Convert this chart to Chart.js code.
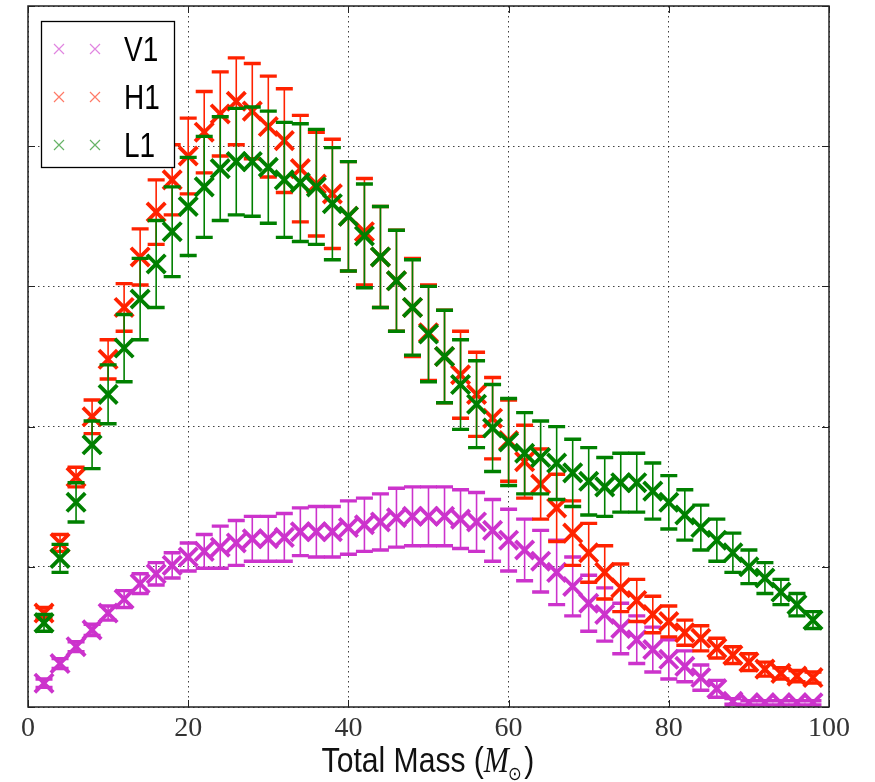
<!DOCTYPE html>
<html>
<head>
<meta charset="utf-8">
<script src="https://cdn.jsdelivr.net/npm/chart.js@4.4.1/dist/chart.umd.min.js"></script>
<style>
  html, body { margin: 0; padding: 0; background: #fff; }
  #wrap { width: 875px; height: 782px; }
</style>
</head>
<body>
<div id="wrap"><canvas id="chart" width="875" height="782"></canvas></div>
<script>
// total mass bins (M_sun)
const masses = [2, 4, 6, 8, 10, 12, 14, 16, 18, 20, 22, 24, 26, 28, 30, 32, 34, 36, 38, 40,
  42, 44, 46, 48, 50, 52, 54, 56, 58, 60, 62, 64, 66, 68, 70, 72, 74, 76, 78, 80,
  82, 84, 86, 88, 90, 92, 94, 96, 98];

const v1Values = [0.17, 0.31, 0.43, 0.55, 0.67, 0.77, 0.88, 0.95, 1.01, 1.07,
  1.11, 1.14, 1.17, 1.20, 1.20, 1.21, 1.25, 1.25, 1.25, 1.28,
  1.30, 1.32, 1.35, 1.36, 1.36, 1.36, 1.34, 1.32, 1.26, 1.19,
  1.12, 1.04, 0.96, 0.86, 0.74, 0.66, 0.56, 0.48, 0.41, 0.34,
  0.29, 0.21, 0.13, 0.04, 0.03, 0.03, 0.03, 0.03, 0.03];
const v1Errors = [0.03, 0.035, 0.035, 0.04, 0.05, 0.06, 0.07, 0.08, 0.09, 0.10,
  0.12, 0.15, 0.16, 0.16, 0.16, 0.17, 0.17, 0.18, 0.18, 0.19,
  0.19, 0.20, 0.21, 0.21, 0.21, 0.21, 0.21, 0.21, 0.22, 0.22,
  0.22, 0.22, 0.23, 0.21, 0.20, 0.19, 0.18, 0.17, 0.16, 0.14,
  0.11, 0.09, 0.06, 0.02, 0.015, 0.015, 0.015, 0.015, 0.015];

const h1Values = [0.67, 1.17, 1.64, 2.07, 2.48, 2.85, 3.21, 3.53, 3.76, 3.93,
  4.10, 4.23, 4.32, 4.25, 4.14, 4.04, 3.84, 3.73, 3.66, 3.50,
  3.39, 3.21, 3.04, 2.85, 2.67, 2.50, 2.37, 2.23, 2.06, 1.90,
  1.75, 1.59, 1.42, 1.24, 1.10, 0.96, 0.85, 0.76, 0.66, 0.61,
  0.53, 0.49, 0.42, 0.37, 0.32, 0.27, 0.24, 0.22, 0.21];
const h1Errors = [0.04, 0.06, 0.07, 0.12, 0.14, 0.17, 0.20, 0.23, 0.25, 0.27,
  0.29, 0.30, 0.31, 0.34, 0.36, 0.37, 0.38, 0.37, 0.39, 0.39,
  0.38, 0.36, 0.36, 0.35, 0.34, 0.33, 0.31, 0.30, 0.29, 0.29,
  0.26, 0.25, 0.24, 0.23, 0.21, 0.19, 0.17, 0.15, 0.13, 0.11,
  0.09, 0.09, 0.07, 0.06, 0.06, 0.05, 0.04, 0.04, 0.04];

const l1Values = [0.60, 1.06, 1.46, 1.87, 2.23, 2.56, 2.91, 3.16, 3.39, 3.57,
  3.71, 3.84, 3.89, 3.89, 3.85, 3.76, 3.74, 3.71, 3.59, 3.50,
  3.36, 3.21, 3.04, 2.85, 2.66, 2.50, 2.30, 2.16, 1.99, 1.89,
  1.81, 1.78, 1.74, 1.67, 1.61, 1.57, 1.60, 1.60, 1.54, 1.46,
  1.37, 1.28, 1.19, 1.10, 1.00, 0.92, 0.82, 0.73, 0.62];
const l1Errors = [0.06, 0.10, 0.14, 0.17, 0.21, 0.24, 0.29, 0.31, 0.32, 0.35,
  0.36, 0.37, 0.38, 0.39, 0.40, 0.41, 0.42, 0.41, 0.40, 0.39,
  0.37, 0.36, 0.36, 0.34, 0.34, 0.33, 0.32, 0.31, 0.31, 0.31,
  0.29, 0.26, 0.26, 0.24, 0.24, 0.21, 0.21, 0.21, 0.20, 0.19,
  0.18, 0.16, 0.15, 0.14, 0.12, 0.11, 0.09, 0.08, 0.06];

const detectorLabels = ['V1', 'H1', 'L1'];
const detectorColors = ['#cc33cc', '#ff2200', '#008000'];
const legendColors = ['rgba(204,51,204,0.6)', 'rgba(255,34,0,0.6)', 'rgba(0,128,0,0.6)'];
const xAxisTitle = 'Total Mass (';

function toPoints(values) {
  return values.map((v, i) => ({ x: masses[i], y: v }));
}

function makeDataset(label, values, errors, color, order) {
  return {
    label,
    data: toPoints(values),
    errors,
    showLine: false,
    pointStyle: 'crossRot',
    pointRadius: 13,
    pointHoverRadius: 13,
    pointBorderWidth: 3.8,
    pointBorderColor: color,
    pointBackgroundColor: color,
    borderColor: color,
    order,
  };
}

// vertical error bars with caps, drawn under each dataset's markers
const errorBars = {
  id: 'errorBars',
  beforeDatasetDraw(chart, args) {
    const ds = chart.data.datasets[args.index];
    if (!ds.errors) return;
    const { ctx, chartArea: a } = chart;
    const xs = chart.scales.x, ys = chart.scales.y;
    ctx.save();
    ctx.beginPath();
    ctx.rect(a.left, a.top, a.right - a.left, a.bottom - a.top);
    ctx.clip();
    ctx.strokeStyle = ds.borderColor;
    ds.data.forEach((p, i) => {
      const e = ds.errors[i];
      const px = xs.getPixelForValue(p.x);
      const top = ys.getPixelForValue(p.y + e);
      const bot = ys.getPixelForValue(p.y - e);
      ctx.lineWidth = 1.6;
      ctx.beginPath();
      ctx.moveTo(px, top);
      ctx.lineTo(px, bot);
      ctx.stroke();
      ctx.lineWidth = 3.4;
      ctx.beginPath();
      ctx.moveTo(px - 8.5, top);
      ctx.lineTo(px + 8.5, top);
      ctx.moveTo(px - 8.5, bot);
      ctx.lineTo(px + 8.5, bot);
      ctx.stroke();
    });
    ctx.restore();
  },
};

// axes frame with inward ticks, legend box and x-axis title
const frame = {
  id: 'frame',
  afterDatasetsDraw(chart) {
    const { ctx, chartArea: a } = chart;
    const xs = chart.scales.x, ys = chart.scales.y;
    ctx.save();
    ctx.strokeStyle = '#222';
    ctx.lineWidth = 1.5;
    ctx.strokeRect(a.left, a.top, a.right - a.left, a.bottom - a.top);
    ctx.lineWidth = 1;
    ctx.beginPath();
    xs.ticks.forEach(t => {
      const px = Math.round(xs.getPixelForValue(t.value)) + 0.5;
      ctx.moveTo(px, a.bottom); ctx.lineTo(px, a.bottom - 7);
      ctx.moveTo(px, a.top); ctx.lineTo(px, a.top + 7);
    });
    ys.ticks.forEach(t => {
      const py = Math.round(ys.getPixelForValue(t.value)) + 0.5;
      ctx.moveTo(a.left, py); ctx.lineTo(a.left + 7, py);
      ctx.moveTo(a.right, py); ctx.lineTo(a.right - 7, py);
    });
    ctx.stroke();
    ctx.restore();
  },
  afterDraw(chart) {
    const { ctx, chartArea: a } = chart;
    ctx.save();
    // legend
    const bx = a.left + 13, by = a.top + 15;
    ctx.fillStyle = '#fff';
    ctx.fillRect(bx, by, 133, 146);
    ctx.strokeStyle = '#000';
    ctx.lineWidth = 1.3;
    ctx.strokeRect(bx + 0.5, by + 0.5, 133, 146);
    detectorLabels.forEach((label, i) => {
      const cy = by + 28 + i * 48;
      ctx.strokeStyle = legendColors[i];
      ctx.lineWidth = 1.2;
      [bx + 18, bx + 54].forEach(cx => {
        ctx.beginPath();
        ctx.moveTo(cx - 5, cy - 5); ctx.lineTo(cx + 5, cy + 5);
        ctx.moveTo(cx - 5, cy + 5); ctx.lineTo(cx + 5, cy - 5);
        ctx.stroke();
      });
      ctx.save();
      ctx.translate(bx + 83, cy + 12);
      ctx.scale(0.8, 1);
      ctx.fillStyle = '#000';
      ctx.font = '35px "Liberation Sans", Arial, sans-serif';
      ctx.textBaseline = 'alphabetic';
      ctx.fillText(label, 0, 0);
      ctx.restore();
    });
    // x-axis title: Total Mass (M_sun)
    const base = 772;
    const sx = 0.86;
    const fMain = '35px "Liberation Sans", Arial, sans-serif';
    const fM = 'italic 35px "Liberation Serif", serif';
    const fSun = '19px "DejaVu Sans", sans-serif';
    ctx.font = fMain;
    const w1 = ctx.measureText(xAxisTitle).width;
    const w3 = ctx.measureText(')').width;
    ctx.font = fM;
    const w2 = ctx.measureText('M').width;
    ctx.font = fSun;
    const wS = ctx.measureText('\u2299').width;
    const total = (w1 + w2 + wS + w3 + 2) * sx;
    const cx = 428;
    ctx.translate(cx - total / 2, base);
    ctx.scale(sx, 1);
    ctx.fillStyle = '#111';
    let x = 0;
    ctx.font = fMain; ctx.fillText(xAxisTitle, x, 0); x += w1;
    ctx.font = fM; ctx.fillText('M', x, 0); x += w2;
    ctx.font = fSun; ctx.fillText('\u2299', x - 1, 8); x += wS + 2;
    ctx.font = fMain; ctx.fillText(')', x, 0);
    ctx.restore();
  },
};

const gridStyle = { color: 'rgba(0,0,0,0.75)', lineWidth: 1, drawTicks: false };

new Chart(document.getElementById('chart').getContext('2d'), {
  type: 'scatter',
  data: {
    datasets: [
      makeDataset(detectorLabels[0], v1Values, v1Errors, detectorColors[0], 3),
      makeDataset(detectorLabels[1], h1Values, h1Errors, detectorColors[1], 2),
      makeDataset(detectorLabels[2], l1Values, l1Errors, detectorColors[2], 1),
    ],
  },
  options: {
    responsive: false,
    animation: false,
    layout: { autoPadding: false, padding: { left: 28, top: 6, right: 46, bottom: 0 } },
    plugins: {
      legend: { display: false },
      tooltip: { enabled: false },
    },
    scales: {
      x: {
        type: 'linear',
        min: 0,
        max: 100,
        grid: gridStyle,
        border: { display: false, dash: [1.5, 3.5] },
        ticks: {
          stepSize: 20,
          padding: 5,
          color: '#333',
          font: { family: '"Liberation Serif", serif', size: 28 },
        },
        afterFit(scale) { scale.height = 75; },
      },
      y: {
        min: 0,
        max: 5,
        grid: gridStyle,
        border: { display: false, dash: [1.5, 3.5] },
        ticks: { stepSize: 1, display: false },
        afterFit(scale) { scale.width = 0; },
      },
    },
  },
  plugins: [errorBars, frame],
});
</script>
</body>
</html>
